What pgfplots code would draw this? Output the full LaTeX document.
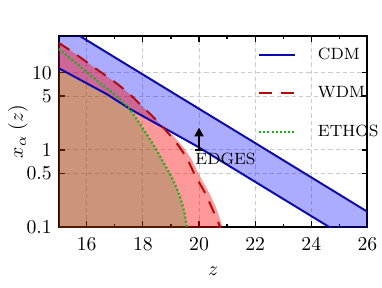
\documentclass[border=0pt]{standalone}
\usepackage{pgfplots}
\pgfplotsset{compat=1.18}
\usetikzlibrary{arrows.meta}
\definecolor{cdmline}{RGB}{10,10,175}
\definecolor{wdmline}{RGB}{180,10,10}
\definecolor{ethline}{RGB}{20,180,20}
\begin{document}
\begin{tikzpicture}
\useasboundingbox (-29.8pt,-30.5pt) rectangle (164.2pt,115.3pt);
\begin{axis}[
  scale only axis, width=156.8pt, height=97pt,
  xmin=15, xmax=26, ymode=log, ymin=0.1, ymax=30,
  xtick={16,18,20,22,24,26}, minor x tick num=1,
  ytick={0.1,0.5,1,5,10}, yticklabels={0.1,0.5,1,5,10},
  yminorticks=false,
  tick align=inside, major tick length=3pt, minor tick length=1.6pt,
  every tick/.style={black, line width=0.6pt},
  axis line style={line width=1pt},
  grid=major,
  major grid style={gray!40, line width=0.45pt, dash pattern=on 2.2pt off 1.5pt},
  xticklabel style={yshift=-1.8pt},
  xlabel={$z$}, ylabel={$x_\alpha\;(z)$},
  every axis x label/.style={at={(axis description cs:0.5,-0.234)}, anchor=center},
  every axis y label/.style={at={(axis description cs:-0.132,0.5)}, rotate=90, anchor=center},
  legend style={at={(rel axis cs:0.646,0.940)}, anchor=north west, draw=none, fill=none,
    inner sep=0pt, outer sep=0pt,
    font=\fontsize{8.3}{10}\selectfont, row sep=12.4pt, column sep=11pt,
    nodes={inner sep=0pt, outer sep=0pt, anchor=west}},
  legend cell align=left,
  legend image code/.code={\draw[#1] (0pt,0pt) -- (18.3pt,0pt);},
]
% CDM band
\addplot[fill=blue, fill opacity=0.33, draw=none, forget plot] coordinates {
  (15,44.3) (16.7,18.5) (19.3,4.89) (22,1.23) (26,0.158)
  (26,0.05) (24.64,0.1) (22,0.386) (19.92,1.12) (17.54,3.4) (16.71,5.3) (15,11.5)
} -- cycle;
% WDM fill
\addplot[fill=red, fill opacity=0.4, draw=none, forget plot] coordinates {
  (15,24.5) (15.5,18.6) (16,13.8) (16.5,10.2) (17,7.6) (17.5,5.4) (18,3.6) (18.5,2.4)
  (19.1,1.5) (19.45,1.07) (19.75,0.74) (19.95,0.52) (20.15,0.38) (20.37,0.275)
  (20.6,0.18) (20.8,0.112) (20.88,0.09) (20.9,0.05) (15,0.05)
} -- cycle;
% ETHOS / overlap fill
\addplot[fill={rgb,255:red,0;green,128;blue,0}, fill opacity=0.2, draw=none, forget plot] coordinates {
  (15,11.5) (16.71,5.3) (17.54,3.4) (17.66,2.9) (18,1.9) (18.25,1.38) (18.5,0.98)
  (18.75,0.67) (19,0.46) (19.2,0.32) (19.35,0.23) (19.47,0.16) (19.57,0.1) (19.62,0.08)
  (19.62,0.05) (15,0.05)
} -- cycle;
% CDM lines
\addplot[cdmline, line width=1pt] coordinates {
  (15,44.3) (16.7,18.5) (19.3,4.89) (22,1.23) (26,0.158)};
\addlegendentry{CDM}
\addplot[cdmline, line width=1pt, forget plot] coordinates {
  (15,11.5) (16.71,5.3) (17.54,3.4) (19.92,1.12) (22,0.386) (24.64,0.1) (26,0.05)};
% WDM line
\addplot[wdmline, line width=1pt, dash pattern=on 6.5pt off 4.8pt, smooth] coordinates {
  (15,24.5) (15.5,18.6) (16,13.8) (16.5,10.2) (17,7.6) (17.5,5.4) (18,3.6) (18.5,2.4)
  (19,1.5) (19.32,1.07) (19.6,0.74) (19.8,0.52) (20,0.38) (20.22,0.275) (20.45,0.18)
  (20.7,0.112) (20.8,0.089)};
\addlegendentry{WDM}
% ETHOS line
\addplot[ethline, line width=1.1pt, dash pattern=on 1pt off 1.1pt, smooth] coordinates {
  (15,20.4) (15.5,14.5) (16,10.2) (16.5,7.2) (17,5.2) (17.5,3.5) (17.66,2.9) (18,1.9)
  (18.25,1.38) (18.5,0.98) (18.75,0.67) (19,0.46) (19.2,0.32) (19.35,0.23) (19.47,0.16)
  (19.57,0.1) (19.62,0.08)};
\addlegendentry{ETHOS}
% EDGES lower limit
\addplot[black, line width=1.3pt, -{Triangle[width=4.5pt,length=4.5pt]}, forget plot]
  coordinates {(20,1.0) (20,1.95)};
\addplot[black, line width=1.3pt, forget plot] coordinates {(19.86,1.0) (20.14,1.0)};
\node[anchor=north west, inner sep=0pt, font=\fontsize{8.3}{10}\selectfont]
  at (axis cs:19.86,0.935) {EDGES};
\end{axis}
\end{tikzpicture}
\end{document}
